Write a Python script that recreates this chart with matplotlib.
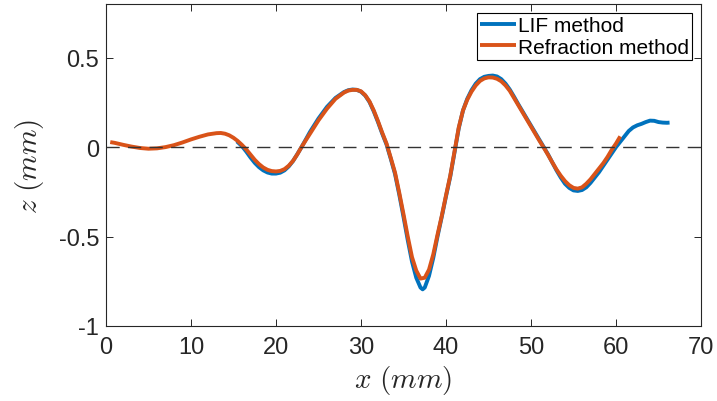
import matplotlib
matplotlib.use('Agg')
import matplotlib.pyplot as plt

plt.rcParams['font.family'] = ['Liberation Sans', 'DejaVu Sans']
plt.rcParams['mathtext.fontset'] = 'cm'
plt.rcParams['axes.unicode_minus'] = False

# surface elevation profiles, z (mm) against x (mm)
x_lif = [15.4, 16, 16.5, 17, 17.5, 18, 18.5, 19, 19.5, 20, 20.5, 21, 21.5, 22, 22.5, 23, 23.5, 24, 25, 26,
         27, 28, 28.5, 29, 29.5, 30, 30.5, 31, 31.5, 32, 32.5, 33, 33.5, 34, 34.5, 35, 35.5, 36, 36.5, 37,
         37.25, 37.5, 38, 38.5, 39, 39.5, 40, 40.5, 41, 41.5, 42, 42.5, 43, 43.5, 44, 44.5, 45, 45.5, 46, 46.5,
         47, 47.5, 48, 48.5, 49, 49.5, 50, 50.5, 51, 51.5, 52, 52.5, 53, 53.5, 54, 54.5, 55, 55.5, 56, 56.5,
         57, 57.5, 58, 58.5, 59, 59.5, 60, 60.5, 61, 61.5, 62, 62.5, 63, 63.5, 64, 64.5, 65, 65.5, 66, 66.3]
z_lif = [0.032, 0.005, -0.025, -0.058, -0.088, -0.112, -0.13, -0.142, -0.148, -0.148, -0.143, -0.13, -0.108,
         -0.078, -0.04, 0.0, 0.042, 0.085, 0.16, 0.225,
         0.275, 0.308, 0.318, 0.322, 0.32, 0.31, 0.288, 0.252, 0.2, 0.14, 0.075, 0.015, -0.065, -0.15, -0.265,
         -0.39, -0.52, -0.64, -0.73, -0.785,
         -0.795, -0.785, -0.72, -0.62, -0.5, -0.39, -0.275, -0.165, -0.03, 0.105, 0.205, 0.27, 0.318, 0.355,
         0.38, 0.393, 0.398, 0.4, 0.395, 0.38,
         0.355, 0.322, 0.282, 0.24, 0.2, 0.16, 0.12, 0.08, 0.04, 0.0, -0.04, -0.085, -0.13, -0.17, -0.205,
         -0.228, -0.242, -0.245, -0.24, -0.225,
         -0.2, -0.17, -0.14, -0.105, -0.07, -0.035, 0.0, 0.03, 0.06, 0.09, 0.11, 0.122, 0.13, 0.14, 0.148,
         0.147, 0.14, 0.137, 0.136, 0.137]

x_ref = [0.5, 1, 2, 3, 4, 5, 6, 7, 8, 9, 10, 11, 12, 13, 13.5, 14, 14.5, 15, 15.5, 16, 16.5, 17, 17.5, 18,
         18.5, 19, 19.5, 20, 20.5, 21, 21.5, 22, 22.5, 23, 23.5, 24, 25, 26, 27, 28, 28.5, 29, 29.5, 30,
         30.5, 31, 31.5, 32, 32.5, 33, 33.5, 34, 34.5, 35, 35.5, 36, 36.5, 37, 37.5, 38, 38.5, 39, 39.5, 40,
         40.5, 41, 41.5, 42, 42.5, 43, 43.5, 44, 44.5, 45, 45.5, 46, 46.5, 47, 47.5, 48, 48.5, 49, 49.5, 50,
         50.5, 51, 51.5, 52, 52.5, 53, 53.5, 54, 54.5, 55, 55.5, 56, 56.5, 57, 57.5, 58, 58.5, 59, 59.5, 60,
         60.5]
z_ref = [0.028, 0.024, 0.013, 0.003, -0.005, -0.009, -0.007, 0.0, 0.011, 0.026, 0.043, 0.058, 0.071, 0.078,
         0.079, 0.075, 0.066, 0.052, 0.034, 0.012, -0.013, -0.042, -0.071, -0.095,
         -0.114, -0.127, -0.134, -0.136, -0.133, -0.123, -0.104, -0.077, -0.041, 0.0, 0.038, 0.075, 0.15,
         0.215, 0.27, 0.305, 0.316, 0.32, 0.32, 0.312,
         0.29, 0.255, 0.205, 0.145, 0.08, 0.02, -0.06, -0.142, -0.255, -0.375, -0.5, -0.615, -0.69, -0.735,
         -0.73, -0.685, -0.6, -0.49, -0.385, -0.27,
         -0.16, -0.025, 0.11, 0.205, 0.265, 0.31, 0.345, 0.37, 0.384, 0.39, 0.389, 0.382, 0.368, 0.345, 0.315,
         0.275, 0.235, 0.195, 0.155, 0.115,
         0.075, 0.035, -0.003, -0.043, -0.085, -0.125, -0.16, -0.19, -0.213, -0.228, -0.232, -0.225, -0.205,
         -0.18, -0.15, -0.12, -0.09, -0.055, -0.015, 0.02,
         0.06]

blue = '#0072BD'
orange = '#D95319'
axcol = '#262626'

fig = plt.figure(figsize=(7.17, 4.02), dpi=100)
ax = fig.add_axes([106 / 717, 75 / 402, 595 / 717, 322 / 402])

ax.plot(x_lif, z_lif, color=blue, lw=2.8, label='LIF method', solid_capstyle='butt')
ax.plot(x_ref, z_ref, color=orange, lw=2.8, label='Refraction method', solid_capstyle='butt')
ax.axhline(0, color='#333333', lw=1.0, linestyle=(0, (9.5, 6)), zorder=5)

ax.set_xlim(0, 70)
ax.set_ylim(-1, 0.8)
ax.set_xticks([0, 10, 20, 30, 40, 50, 60, 70])
ax.set_yticks([-1, -0.5, 0, 0.5])
ax.set_yticklabels(['-1', '-0.5', '0', '0.5'])

ax.tick_params(direction='in', length=5, width=0.7, colors=axcol, labelsize=17,
               top=True, right=True, labelcolor=axcol)
ax.tick_params(axis='x', pad=7)
ax.tick_params(axis='y', pad=5)
for s in ax.spines.values():
    s.set_color(axcol)
    s.set_linewidth(0.8)

ax.set_xlabel(r'$x\ (mm)$', fontsize=21, color=axcol, labelpad=4)
ax.set_ylabel(r'$z\ (mm)$', fontsize=21, color=axcol, labelpad=9)

leg = ax.legend(loc='upper right', bbox_to_anchor=(0.985, 0.971), borderaxespad=0,
                fontsize=15, fancybox=False, framealpha=1, edgecolor='black',
                handlelength=1.7, handletextpad=0.1, labelspacing=0.1, borderpad=0.15)
leg.get_frame().set_linewidth(0.8)

fig.savefig('out.png', dpi=100)
